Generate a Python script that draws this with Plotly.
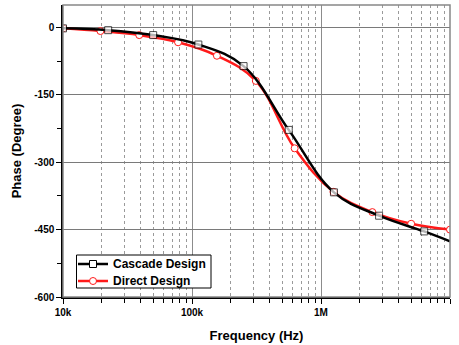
import plotly.graph_objects as go

# Cascade Design (black, squares)
cascade_freq = [1e4, 2.24e4, 5.0e4, 1.12e5, 2.51e5, 5.62e5, 1.26e6, 2.82e6, 6.31e6, 1e7]
cascade_phase = [-2, -6, -17, -38, -86, -228, -367, -419, -454, -476]
cascade_marker = [True, True, True, True, True, True, True, True, True, False]

# Direct Design (red, circles)
direct_freq = [1e4, 1.95e4, 3.9e4, 7.8e4, 1.56e5, 3.125e5, 6.25e5, 1.25e6, 2.5e6, 5.0e6, 1e7]
direct_phase = [-2, -8, -17, -33, -63, -119, -269, -366, -411, -437, -450]

series_names = ["Cascade Design", "Direct Design"]

x_tick_vals = [1e4, 1e5, 1e6, 1e7]
x_tick_text = ["10k", "100k", "1M", "10M"]
y_tick_vals = [-600, -450, -300, -150, 0]
y_tick_text = ["-600", "-450", "-300", "-150", "0"]

FONT = "Arial, Liberation Sans, sans-serif"
BLACK = "black"
RED = "#ff1a1a"

W, H = 459, 345
ML, MR, MT, MB = 63, 9, 5, 48
PW, PH = W - ML - MR, H - MT - MB

def px(xp):
    return (xp - ML) / PW

def py(yp):
    return (H - MB - yp) / PH

minor_x = [d * m for d in (1e4, 1e5, 1e6) for m in range(2, 10)]

fig = go.Figure()
fig.add_trace(go.Scatter(
    x=direct_freq, y=direct_phase, name=series_names[1],
    mode="lines+markers", showlegend=False,
    line=dict(color=RED, width=2.5, shape="spline", smoothing=1.1),
    marker=dict(symbol="circle", size=7, color="white",
                line=dict(color=RED, width=1)),
))
fig.add_trace(go.Scatter(
    x=cascade_freq, y=cascade_phase, name=series_names[0],
    mode="lines+markers", showlegend=False,
    line=dict(color=BLACK, width=2.5, shape="spline", smoothing=1.1),
    marker=dict(symbol="square", size=[7 if m else 0 for m in cascade_marker],
                color="white", line=dict(color=BLACK, width=1)),
))

# custom compact legend (paper coordinates)
shapes = [dict(type="rect", xref="paper", yref="paper", x0=0, y0=0, x1=1, y1=1,
               line=dict(color="#888888", width=1.5), layer="above")]
shapes.append(dict(type="rect", xref="paper", yref="paper",
                   x0=px(76.5), x1=px(211), y0=py(288), y1=py(255),
                   line=dict(color="black", width=1), fillcolor="white", layer="above"))
annotations = []
rows = [(264, BLACK, "square"), (281, RED, "circle")]
for (yc, col, sym), name in zip(rows, series_names):
    shapes.append(dict(type="line", xref="paper", yref="paper",
                       x0=px(78), x1=px(108), y0=py(yc), y1=py(yc),
                       line=dict(color=col, width=2.5), layer="above"))
    r = 3.5
    shapes.append(dict(type="rect" if sym == "square" else "circle",
                       xref="paper", yref="paper",
                       x0=px(93 - r), x1=px(93 + r), y0=py(yc + r), y1=py(yc - r),
                       line=dict(color=col, width=1), fillcolor="white", layer="above"))
    annotations.append(dict(xref="paper", yref="paper", x=px(110.5), y=py(yc),
                            xanchor="left", yanchor="middle", showarrow=False,
                            text=name, font=dict(family=FONT, size=12, color="black",
                                                 weight="bold")))

fig.update_layout(
    width=W, height=H,
    margin=dict(l=ML, r=MR, t=MT, b=MB),
    paper_bgcolor="white", plot_bgcolor="white",
    font=dict(family=FONT, color="black"),
    showlegend=False,
    shapes=shapes, annotations=annotations,
)

fig.update_xaxes(
    type="log", range=[4, 7],
    tickmode="array", tickvals=x_tick_vals, ticktext=x_tick_text,
    tickfont=dict(family=FONT, size=10, weight="bold"),
    ticks="outside", ticklen=5, tickcolor="black",
    showgrid=True, gridcolor="#8c8c8c", gridwidth=1,
    showline=True, linecolor="black", linewidth=1.5,
    minor=dict(tickmode="array", tickvals=minor_x, ticks="outside", ticklen=4,
               tickcolor="black", showgrid=True, gridcolor="#9a9a9a",
               griddash="dot", gridwidth=1),
    title=dict(text="Frequency (Hz)", font=dict(family=FONT, size=13, weight="bold"),
               standoff=14),
    zeroline=False,
)
fig.update_yaxes(
    range=[-600, 50],
    tickmode="array", tickvals=y_tick_vals, ticktext=y_tick_text,
    tickfont=dict(family=FONT, size=10, weight="bold"),
    ticks="outside", ticklen=5, tickcolor="black",
    showgrid=True, gridcolor="#7a7a7a", gridwidth=1,
    showline=True, linecolor="black", linewidth=1.5,
    minor=dict(dtick=75, tick0=0, ticks="outside", ticklen=4, tickcolor="black",
               showgrid=False),
    title=dict(text="Phase (Degree)", font=dict(family=FONT, size=13, weight="bold"),
               standoff=10),
    zeroline=False,
)

fig.write_html("out.html")
